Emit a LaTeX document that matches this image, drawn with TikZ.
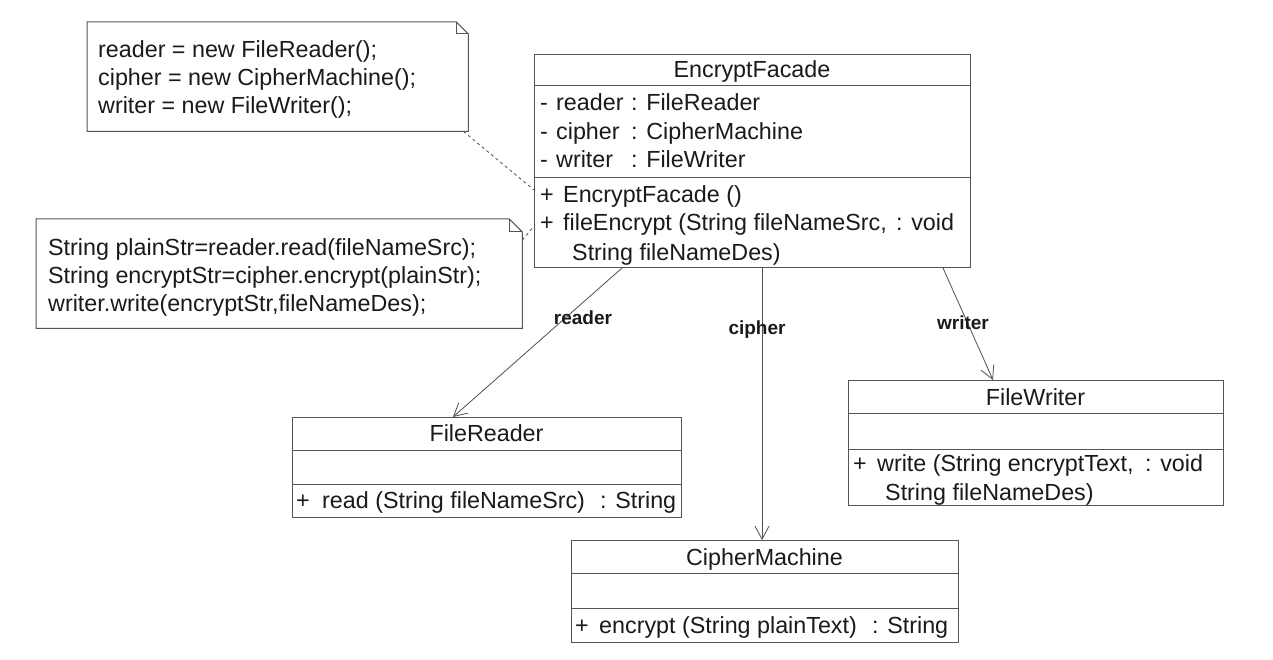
\documentclass[tikz,border=0pt]{standalone}
\usepackage{fontspec}
\setmainfont{Liberation Sans}
\usetikzlibrary{arrows.meta,calc}
\definecolor{ink}{HTML}{1A1A1A}
\definecolor{edge}{HTML}{555555}
\definecolor{wire}{HTML}{505050}
\begin{document}
\begin{tikzpicture}[x=1pt,y=-1pt,
  txt/.style={anchor=base west, inner sep=0pt, font=\fontsize{23.3}{28}\selectfont, text=ink},
  ttl/.style={anchor=base, inner sep=0pt, font=\fontsize{23.3}{28}\selectfont, text=ink},
  lbl/.style={anchor=center, inner sep=0pt, font=\fontsize{19}{22}\selectfont\bfseries, text=ink},
  boxn/.style={draw=edge, line width=1pt, fill=white, inner sep=0pt, anchor=north west},
  div/.style={draw=edge, line width=1pt},
  notebox/.style={draw=edge, line width=1pt, fill=white},
  assoc/.style={draw=wire, line width=0.8pt, -{Straight Barb[length=13pt,width=14pt,line width=0.8pt]}},
  notelink/.style={draw=wire, line width=0.8pt, dash pattern=on 3pt off 3pt},
]
\useasboundingbox (0,0) rectangle (1273,660);
\fill[white] (0,0) rectangle (1273,660);

% ---------- Note 1 ----------
\node[inner sep=0pt, anchor=north west, minimum width=381pt, minimum height=109pt] (n1) at (87,22) {};
\draw[notebox] (n1.north west) -- ($(n1.north east)+(-12,0)$) -- ($(n1.north east)+(0,12)$) -- (n1.south east) -- (n1.south west) -- cycle;
\draw[div] ($(n1.north east)+(-12,0)$) -- ($(n1.north east)+(-12,12)$) -- ($(n1.north east)+(0,12)$);
\node[txt] (n1l1) at (98,58) {reader = new FileReader();};
\node[txt] (n1l2) at (98,86) {cipher = new CipherMachine();};
\node[txt] (n1l3) at (98,114) {writer = new FileWriter();};

% ---------- Note 2 ----------
\node[inner sep=0pt, anchor=north west, minimum width=486pt, minimum height=109pt] (n2) at (36,219) {};
\draw[notebox] (n2.north west) -- ($(n2.north east)+(-13,0)$) -- ($(n2.north east)+(0,13)$) -- (n2.south east) -- (n2.south west) -- cycle;
\draw[div] ($(n2.north east)+(-13,0)$) -- ($(n2.north east)+(-13,13)$) -- ($(n2.north east)+(0,13)$);
\node[txt] (n2l1) at (48,255) {String plainStr=reader.read(fileNameSrc);};
\node[txt] (n2l2) at (48,283) {String encryptStr=cipher.encrypt(plainStr);};
\node[txt] (n2l3) at (48,311) {writer.write(encryptStr,fileNameDes);};

% ---------- EncryptFacade ----------
\node[boxn, minimum width=436pt, minimum height=213pt] (ef) at (534,54) {};
\draw[div] (ef.west |- 0,86) -- (ef.east |- 0,86);
\draw[div] (ef.west |- 0,178) -- (ef.east |- 0,178);
\node[ttl] (eft) at (752,78) {EncryptFacade};
\node[txt] (efa1m) at (540,111) {-};
\node[txt] (efa1) at (556,111) {reader};
\node[txt] (efa1t) at (631,111) {: FileReader};
\node[txt] (efa2m) at (540,140) {-};
\node[txt] (efa2) at (556,140) {cipher};
\node[txt] (efa2t) at (631,140) {: CipherMachine};
\node[txt] (efa3m) at (540,168) {-};
\node[txt] (efa3) at (556,168) {writer};
\node[txt] (efa3t) at (631,168) {: FileWriter};
\node[txt] (efo1m) at (540,203) {+};
\node[txt] (efo1) at (563,203) {EncryptFacade ()};
\node[txt] (efo2m) at (540,231) {+};
\node[txt] (efo2) at (563,231) {fileEncrypt (String fileNameSrc,};
\node[txt] (efo2t) at (896,231) {: void};
\node[txt] (efo3) at (572,260) {String fileNameDes)};

% ---------- FileReader ----------
\node[boxn, minimum width=389pt, minimum height=100pt] (fr) at (292,417) {};
\draw[div] (fr.west |- 0,450) -- (fr.east |- 0,450);
\draw[div] (fr.west |- 0,484) -- (fr.east |- 0,484);
\node[ttl] (frt) at (486.5,441) {FileReader};
\node[txt] (fro1m) at (296,508) {+};
\node[txt] (fro1) at (322,508) {read (String fileNameSrc)};
\node[txt] (fro1t) at (600,508) {: String};

% ---------- FileWriter ----------
\node[boxn, minimum width=375pt, minimum height=125pt] (fw) at (848,380) {};
\draw[div] (fw.west |- 0,413) -- (fw.east |- 0,413);
\draw[div] (fw.west |- 0,449) -- (fw.east |- 0,449);
\node[ttl] (fwt) at (1035.5,405) {FileWriter};
\node[txt] (fwo1m) at (853,471) {+};
\node[txt] (fwo1) at (877,471) {write (String encryptText,};
\node[txt] (fwo1t) at (1145,471) {: void};
\node[txt] (fwo2) at (885,500) {String fileNameDes)};

% ---------- CipherMachine ----------
\node[boxn, minimum width=387pt, minimum height=102pt] (cm) at (571,540) {};
\draw[div] (cm.west |- 0,573) -- (cm.east |- 0,573);
\draw[div] (cm.west |- 0,608) -- (cm.east |- 0,608);
\node[ttl] (cmt) at (764.5,565) {CipherMachine};
\node[txt] (cmo1m) at (575,633) {+};
\node[txt] (cmo1) at (599,633) {encrypt (String plainText)};
\node[txt] (cmo1t) at (872,633) {: String};

% ---------- note links ----------
\draw[notelink] ($(n1.south east)+(-5,0)$) -- ($(ef.north west)+(0,136)$);
\draw[notelink] ($(n2.north east)+(0,21)$) -- ($(ef.north west)+(0,172)$);

% ---------- associations ----------
\draw[assoc] ($(ef.south west)+(88,0)$) -- ($(fr.north west)+(161,0)$);
\draw[assoc] ($(ef.south west)+(228,0)$) -- ($(cm.north west)+(191,0)$);
\draw[assoc] ($(ef.south west)+(409,0)$) -- ($(fw.north west)+(145,0)$);

\node[lbl] (lr) at (583,318) {reader};
\node[lbl] (lc) at (757,330) {cipher};
\node[lbl] (lw) at (963,323) {writer};
\end{tikzpicture}
\end{document}
